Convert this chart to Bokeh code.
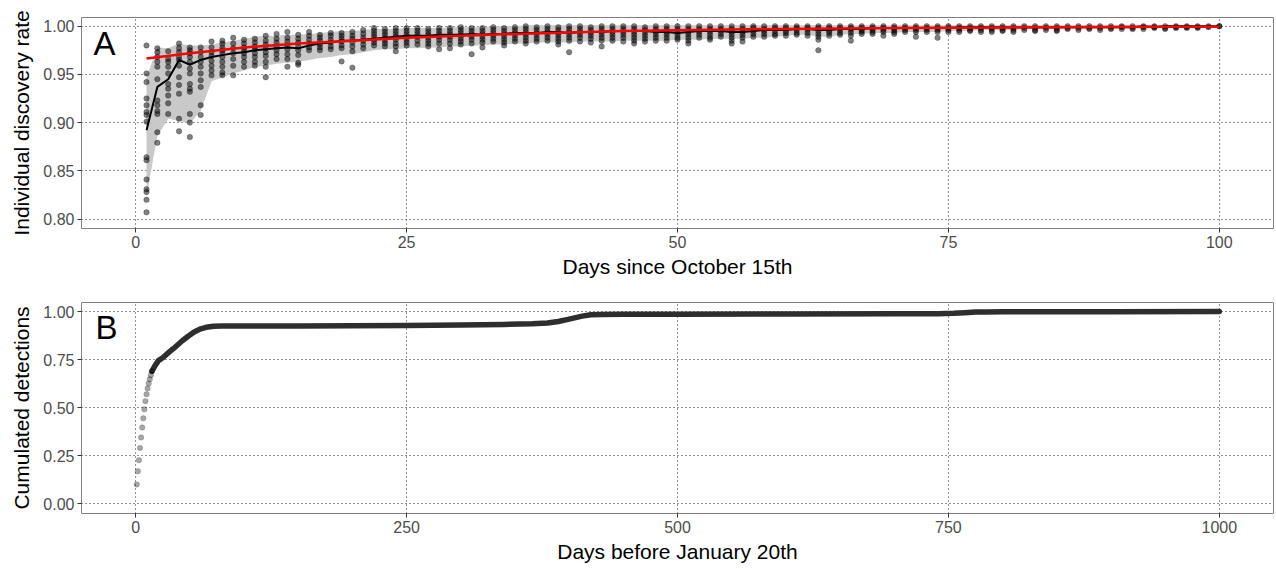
from bokeh.plotting import figure
from bokeh.layouts import column
from bokeh.models import FixedTicker, Label, Range1d, NumeralTickFormatter
from bokeh.embed import file_html
from bokeh.resources import INLINE

# ---------------- Panel A data ----------------
days_a = list(range(1, 101))

pts_a = [
    [0.980, 0.951, 0.942, 0.925, 0.918, 0.911, 0.908, 0.901, 0.864, 0.861, 0.841, 0.831, 0.828, 0.820, 0.807],
    [0.977, 0.973, 0.968, 0.963, 0.958, 0.945, 0.923, 0.918, 0.912, 0.909, 0.890, 0.879],
    [0.974, 0.966, 0.963, 0.958, 0.951, 0.940, 0.935, 0.928, 0.920, 0.909],
    [0.982, 0.977, 0.973, 0.968, 0.965, 0.959, 0.947, 0.939, 0.930, 0.904, 0.891],
    [0.978, 0.975, 0.972, 0.968, 0.963, 0.956, 0.951, 0.940, 0.935, 0.932, 0.909, 0.900, 0.885],
    [0.978, 0.973, 0.968, 0.963, 0.958, 0.951, 0.944, 0.937, 0.918, 0.908],
    [0.984, 0.978, 0.973, 0.969, 0.964, 0.959, 0.954, 0.949],
    [0.985, 0.982, 0.978, 0.975, 0.972, 0.968, 0.963, 0.958, 0.952, 0.949],
    [0.988, 0.982, 0.977, 0.972, 0.966, 0.959, 0.949],
    [0.986, 0.982, 0.978, 0.975, 0.972, 0.968, 0.963, 0.958],
    [0.987, 0.983, 0.979, 0.976, 0.972, 0.968, 0.963, 0.959],
    [0.990, 0.985, 0.981, 0.977, 0.973, 0.969, 0.963, 0.958, 0.947],
    [0.992, 0.987, 0.983, 0.979, 0.975, 0.971, 0.966],
    [0.994, 0.988, 0.984, 0.980, 0.976, 0.971, 0.966, 0.958],
    [0.991, 0.987, 0.983, 0.979, 0.975, 0.970, 0.962, 0.960],
    [0.994, 0.990, 0.986, 0.982, 0.978, 0.975],
    [0.991, 0.988, 0.985, 0.981, 0.978, 0.975],
    [0.993, 0.990, 0.986, 0.983, 0.979, 0.976],
    [0.993, 0.990, 0.987, 0.984, 0.980, 0.977, 0.9635],
    [0.994, 0.990, 0.987, 0.983, 0.979, 0.974, 0.957],
    [0.996, 0.992, 0.988, 0.985, 0.981, 0.977],
    [0.998, 0.995, 0.992, 0.989, 0.986, 0.983, 0.980],
    [0.997, 0.994, 0.991, 0.988, 0.985, 0.982, 0.979],
    [0.998, 0.995, 0.992, 0.989, 0.986, 0.982, 0.979, 0.974],
    [0.998, 0.995, 0.992, 0.989, 0.986, 0.983, 0.980],
    [0.998, 0.995, 0.992, 0.989, 0.985, 0.981],
    [0.997, 0.994, 0.991, 0.988, 0.985, 0.982, 0.979],
    [0.998, 0.995, 0.992, 0.989, 0.986, 0.982, 0.976],
    [0.998, 0.995, 0.992, 0.989, 0.986, 0.982, 0.977],
    [0.999, 0.996, 0.993, 0.990, 0.987, 0.984, 0.981],
    [0.998, 0.995, 0.992, 0.989, 0.986, 0.982, 0.971],
    [0.998, 0.995, 0.992, 0.989, 0.986, 0.983, 0.978],
    [0.999, 0.996, 0.993, 0.990, 0.987, 0.984],
    [0.998, 0.995, 0.992, 0.989, 0.986, 0.983, 0.980],
    [0.999, 0.996, 0.993, 0.990, 0.987, 0.984],
    [1.000, 0.997, 0.994, 0.991, 0.988, 0.985, 0.982],
    [0.999, 0.996, 0.993, 0.990, 0.987, 0.984],
    [1.000, 0.997, 0.994, 0.991, 0.988, 0.985],
    [0.999, 0.996, 0.993, 0.990, 0.987, 0.984, 0.981],
    [1.000, 0.997, 0.994, 0.991, 0.988, 0.985, 0.973],
    [1.000, 0.997, 0.994, 0.991, 0.988, 0.984],
    [0.999, 0.996, 0.993, 0.990, 0.987, 0.983],
    [1.000, 0.997, 0.994, 0.991, 0.988, 0.985, 0.979],
    [1.000, 0.997, 0.994, 0.991, 0.988, 0.985],
    [1.000, 0.997, 0.994, 0.991, 0.988, 0.984],
    [1.000, 0.997, 0.994, 0.991, 0.988, 0.985, 0.982],
    [0.999, 0.996, 0.993, 0.990, 0.987, 0.984],
    [1.000, 0.997, 0.994, 0.991, 0.988, 0.985],
    [1.000, 0.997, 0.994, 0.991, 0.988, 0.985],
    [1.000, 0.997, 0.994, 0.991, 0.988, 0.986],
    [1.000, 0.997, 0.994, 0.991, 0.988, 0.985, 0.982],
    [1.000, 0.997, 0.994, 0.991, 0.988],
    [1.000, 0.997, 0.994, 0.991, 0.988, 0.986],
    [1.000, 0.997, 0.995, 0.992, 0.989],
    [1.000, 0.997, 0.994, 0.991, 0.988, 0.985, 0.982],
    [1.000, 0.997, 0.994, 0.991, 0.988, 0.984],
    [1.000, 0.998, 0.995, 0.992, 0.989],
    [1.000, 0.997, 0.995, 0.992, 0.989],
    [1.000, 0.998, 0.995, 0.992, 0.990],
    [1.000, 0.998, 0.995, 0.993, 0.990],
    [1.000, 0.998, 0.996, 0.993, 0.991],
    [1.000, 0.998, 0.996, 0.993, 0.990],
    [1.000, 0.998, 0.995, 0.992, 0.989, 0.986, 0.975],
    [1.000, 0.998, 0.995, 0.993, 0.990],
    [1.000, 0.998, 0.996, 0.993, 0.991],
    [1.000, 0.998, 0.996, 0.993, 0.990, 0.985],
    [1.000, 0.998, 0.996, 0.994, 0.992],
    [1.000, 0.998, 0.996, 0.994, 0.992],
    [1.000, 0.998, 0.996, 0.994, 0.990],
    [1.000, 0.998, 0.996, 0.994, 0.992],
    [1.000, 0.998, 0.996, 0.994],
    [1.000, 0.998, 0.996, 0.994, 0.989],
    [1.000, 0.998, 0.996, 0.994],
    [1.000, 0.998, 0.996, 0.994, 0.988],
    [1.000, 0.998, 0.996, 0.994],
    [1.000, 0.998, 0.996, 0.994],
    [1.000, 0.998, 0.996, 0.995],
    [1.000, 0.998, 0.996, 0.994],
    [1.000, 0.998, 0.996, 0.994],
    [1.000, 0.998, 0.996, 0.995],
    [1.000, 0.998, 0.996, 0.994],
    [1.000, 0.998, 0.996],
    [1.000, 0.998, 0.996, 0.995],
    [1.000, 0.998, 0.996],
    [1.000, 0.998, 0.996, 0.995],
    [1.000, 0.998, 0.997],
    [1.000, 0.998, 0.996],
    [1.000, 0.998, 0.997],
    [1.000, 0.998, 0.996],
    [1.000, 0.998, 0.997],
    [1.000, 0.999, 0.997],
    [1.000, 0.998, 0.997],
    [1.000, 0.999, 0.997],
    [1.000, 0.999, 0.998],
    [1.000, 0.998, 0.997],
    [1.000, 0.999, 0.998],
    [1.000, 0.999, 0.998],
    [1.000, 0.999, 0.998],
    [1.000, 0.999],
    [1.000, 1.000],
]

mean_a = [0.892, 0.937, 0.945, 0.965, 0.960, 0.965, 0.968, 0.970, 0.972, 0.973,
          0.975, 0.976, 0.977, 0.978, 0.977, 0.980, 0.982, 0.983, 0.985, 0.985,
          0.986, 0.987, 0.988, 0.989, 0.990, 0.990, 0.990, 0.991, 0.991, 0.991,
          0.992, 0.991, 0.992, 0.992, 0.993, 0.993, 0.993, 0.994, 0.994, 0.993,
          0.994, 0.994, 0.994, 0.995, 0.995, 0.995, 0.995, 0.994, 0.994, 0.993,
          0.994, 0.995, 0.995, 0.995, 0.994, 0.994, 0.995, 0.996, 0.996, 0.996,
          0.997, 0.997, 0.996, 0.996, 0.997, 0.997, 0.997, 0.998, 0.998, 0.998,
          0.998, 0.998, 0.998, 0.998, 0.998, 0.999, 0.999, 0.999, 0.999, 0.999,
          0.999, 0.999, 0.999, 0.999, 0.999, 0.999, 0.999, 0.999, 0.999, 0.999,
          0.999, 0.999, 1.000, 0.999, 1.000, 1.000, 1.000, 1.000, 1.000, 1.000]

band_lo = [0.824, 0.886, 0.904, 0.902, 0.899, 0.912, 0.943, 0.947, 0.951, 0.954,
           0.958, 0.959, 0.961, 0.962, 0.963, 0.965, 0.967, 0.968, 0.970, 0.971,
           0.973, 0.975, 0.976, 0.976, 0.977, 0.977, 0.978, 0.978, 0.979, 0.979,
           0.980, 0.980, 0.981, 0.981, 0.982, 0.982, 0.983, 0.983, 0.983, 0.983,
           0.984, 0.984, 0.984, 0.984, 0.985, 0.985, 0.985, 0.985, 0.985, 0.986,
           0.986, 0.986, 0.987, 0.987, 0.987, 0.987, 0.988, 0.988, 0.989, 0.990,
           0.991, 0.991, 0.989, 0.989, 0.991, 0.992, 0.992, 0.993, 0.993, 0.993,
           0.994, 0.994, 0.994, 0.994, 0.995, 0.995, 0.995, 0.996, 0.996, 0.996,
           0.996, 0.997, 0.997, 0.997, 0.997, 0.998, 0.998, 0.998, 0.998, 0.998,
           0.999, 0.999, 0.999, 0.999, 0.999, 0.999, 0.999, 0.999, 0.999, 1.000]

band_hi = [0.947, 0.978, 0.977, 0.982, 0.980, 0.980, 0.981, 0.983, 0.985, 0.987,
           0.989, 0.990, 0.990, 0.991, 0.991, 0.992, 0.993, 0.994, 0.995, 0.995,
           0.996, 0.997, 0.997, 0.997, 0.998, 0.998, 0.998, 0.998, 0.999, 0.999,
           0.999, 0.999, 1.000, 1.000, 1.000, 1.001, 1.001, 1.001, 1.001, 1.001,
           1.001, 1.001, 1.001, 1.001, 1.001, 1.001, 1.001, 1.001, 1.001, 1.001,
           1.001, 1.001, 1.001, 1.001, 1.001, 1.001, 1.001, 1.001, 1.001, 1.001,
           1.001, 1.001, 1.001, 1.001, 1.001, 1.001, 1.001, 1.001, 1.001, 1.001,
           1.001, 1.001, 1.001, 1.001, 1.001, 1.001, 1.001, 1.001, 1.001, 1.001,
           1.001, 1.001, 1.001, 1.001, 1.001, 1.001, 1.001, 1.001, 1.001, 1.001,
           1.001, 1.001, 1.001, 1.001, 1.001, 1.001, 1.001, 1.001, 1.001, 1.000]

fit_days = [1, 5, 10, 15, 20, 25, 30, 35, 40, 45, 50, 55, 60, 65, 70, 75, 80, 85, 90, 95, 100]
fit_vals = [0.9665, 0.972, 0.978, 0.982, 0.985, 0.988, 0.990, 0.992, 0.9935, 0.995, 0.9958,
            0.9966, 0.9972, 0.9977, 0.998, 0.9984, 0.9987, 0.999, 0.9992, 0.9994, 0.9995]

xticks_a = [0, 25, 50, 75, 100]
yticks_a = [0.80, 0.85, 0.90, 0.95, 1.00]

# ---------------- Panel B data ----------------
early_days_b = list(range(1, 16))
early_vals_b = [0.101, 0.170, 0.227, 0.291, 0.345, 0.397, 0.445, 0.492, 0.534, 0.570,
                0.600, 0.626, 0.648, 0.669, 0.690]

curve_days_b = [15, 18, 21, 25, 30, 35, 43, 49, 54, 60, 65, 72, 80, 100, 150, 200, 250,
                300, 340, 366, 380, 390, 398, 405, 412, 420, 430, 450, 500, 600, 700,
                740, 755, 765, 775, 785, 800, 900, 1000]
curve_vals_b = [0.690, 0.720, 0.745, 0.760, 0.785, 0.808, 0.848, 0.874, 0.894, 0.910,
                0.918, 0.924, 0.925, 0.925, 0.925, 0.926, 0.927, 0.930, 0.933, 0.936,
                0.940, 0.948, 0.958, 0.967, 0.976, 0.983, 0.985, 0.986, 0.986, 0.987,
                0.988, 0.989, 0.991, 0.994, 0.997, 0.998, 0.999, 0.999, 1.000]

xticks_b = [0, 250, 500, 750, 1000]
yticks_b = [0.00, 0.25, 0.50, 0.75, 1.00]

FONT = "Liberation Sans"


def style(p, xticks, yticks, yfmt):
    p.outline_line_color = "#7f7f7f"
    p.outline_line_width = 1
    for g in (p.xgrid, p.ygrid):
        g.grid_line_color = "black"
        g.grid_line_dash = "1 3"
        g.grid_line_alpha = 0.85
        g.grid_line_width = 1
    p.xaxis.ticker = FixedTicker(ticks=xticks)
    p.yaxis.ticker = FixedTicker(ticks=yticks)
    p.yaxis.formatter = NumeralTickFormatter(format=yfmt)
    for ax in (p.xaxis, p.yaxis):
        ax.axis_line_color = None
        ax.major_tick_line_color = "#333333"
        ax.major_tick_out = 4
        ax.major_tick_in = 0
        ax.minor_tick_line_color = None
        ax.major_label_text_font = FONT
        ax.major_label_text_font_size = "16px"
        ax.major_label_text_color = "#4d4d4d"
        ax.major_label_standoff = 3
        ax.axis_label_text_font = FONT
        ax.axis_label_text_font_size = "21px"
        ax.axis_label_text_font_style = "normal"
        ax.axis_label_text_color = "black"
    p.xaxis.axis_label_standoff = 4
    p.yaxis.axis_label_standoff = 7
    p.background_fill_color = "white"
    p.border_fill_color = "white"


# ---------------- Panel A ----------------
pa = figure(width=1276, height=288, output_backend="svg", toolbar_location=None,
            x_range=Range1d(-5, 105), y_range=Range1d(0.7902, 1.009),
            min_border_left=81, min_border_right=3, min_border_top=17, min_border_bottom=60)
style(pa, xticks_a, yticks_a, "0.00")
pa.xaxis.axis_label = "Days since October 15th"
pa.yaxis.axis_label = "Individual discovery rate"

pa.varea(x=days_a, y1=band_lo, y2=band_hi, fill_color="#c9c9c9", fill_alpha=1.0)

pt_x = []
pt_y = []
for d, vals in zip(days_a, pts_a):
    for v in vals:
        pt_x.append(d)
        pt_y.append(v)
pa.scatter(pt_x, pt_y, size=5.5, fill_color="black", fill_alpha=0.5,
           line_color="black", line_alpha=0.25)
pa.line(days_a, mean_a, line_color="black", line_width=2)
pa.line(fit_days, fit_vals, line_color="#ff0000", line_width=2.5)

pa.add_layout(Label(x=-3.9, y=0.9823, text="A", text_font=FONT, text_font_size="33px",
                    text_color="black", text_baseline="alphabetic"))

# ---------------- Panel B ----------------
pb = figure(width=1276, height=281, output_backend="svg", toolbar_location=None,
            x_range=Range1d(-50, 1050), y_range=Range1d(-0.05, 1.047),
            min_border_left=81, min_border_right=3, min_border_top=14, min_border_bottom=56)
style(pb, xticks_b, yticks_b, "0.00")
pb.xaxis.axis_label = "Days before January 20th"
pb.yaxis.axis_label = "Cumulated detections"

pb.line(curve_days_b, curve_vals_b, line_color="#2e2e2e", line_width=5.5,
        line_cap="round", line_join="round")
pb.scatter(early_days_b, early_vals_b, size=5.5, fill_color="black", fill_alpha=0.35,
           line_color="black", line_alpha=0.15)

pb.add_layout(Label(x=-37, y=0.918, text="B", text_font=FONT, text_font_size="33px",
                    text_color="black", text_baseline="alphabetic"))

layout = column(pa, pb, spacing=0)
open("out.html", "w").write(file_html(layout, INLINE))
